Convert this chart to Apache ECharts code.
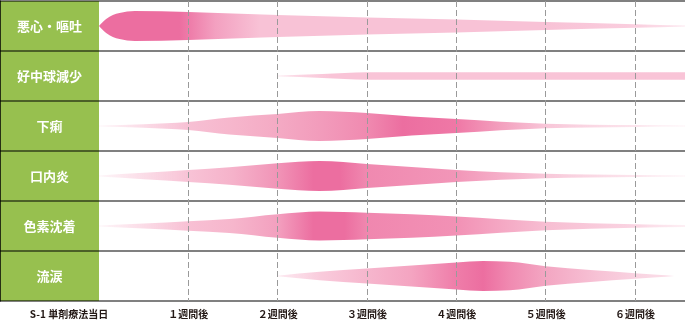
<!DOCTYPE html>
<html><head><meta charset="utf-8">
<script src="https://cdn.jsdelivr.net/npm/echarts@6/dist/echarts.min.js"></script>
<style>html,body{margin:0;padding:0;background:#fff}#c{width:685px;height:321px}</style>
</head><body><div id="c"></div>
<script>
// ---------- data ----------
const ROWS = ['悪心・嘔吐', '好中球減少', '下痢', '口内炎', '色素沈着', '流涙'];
const TICK_LABELS = ['S-1 単剤療法当日', '１週間後', '２週間後', '３週間後', '４週間後', '５週間後', '６週間後'];
const X_MAX = 6.56; // weeks visible

// half-thickness profiles (in row-height units) at given weeks
const NAUSEA_WEEKS = [0, 0.08, 0.155, 0.23, 0.4, 1, 1.5, 2, 3, 4, 5, 6, 6.56];
const NAUSEA_WIDTH = [0, 0.14, 0.22, 0.26, 0.3, 0.28, 0.25, 0.22, 0.17, 0.13, 0.08, 0.036, 0.01];
const NEUTRO_WEEKS = [2, 2.5, 3, 4, 5, 6, 6.56];
const NEUTRO_WIDTH = [0.005, 0.04, 0.075, 0.075, 0.075, 0.075, 0.075];
const DIARRHEA_WEEKS = [0, 0.5, 1, 1.46, 2, 2.47, 3, 3.5, 4, 5, 6, 6.56];
const DIARRHEA_WIDTH = [0.01, 0.035, 0.08, 0.17, 0.24, 0.3, 0.26, 0.19, 0.14, 0.045, 0.018, 0.012];
const STOMATITIS_WEEKS = [0, 0.5, 1, 1.46, 2, 2.47, 3, 3.5, 4, 5, 6, 6.56];
const STOMATITIS_WIDTH = [0.01, 0.065, 0.12, 0.175, 0.255, 0.3, 0.24, 0.18, 0.12, 0.045, 0.02, 0.012];
const PIGMENT_WEEKS = [0, 0.5, 1, 1.46, 2, 2.47, 3, 3.5, 4, 5, 6, 6.56];
const PIGMENT_WIDTH = [0.01, 0.05, 0.095, 0.14, 0.235, 0.29, 0.265, 0.235, 0.19, 0.085, 0.033, 0.018];
const TEARS_WEEKS = [2, 2.47, 3, 3.5, 4, 4.3, 4.6, 5, 5.5, 6, 6.25, 6.44];
const TEARS_WIDTH = [0.005, 0.083, 0.15, 0.21, 0.27, 0.3, 0.285, 0.195, 0.12, 0.057, 0.025, 0];

const PROFILES = [
  [NAUSEA_WEEKS, NAUSEA_WIDTH],
  [NEUTRO_WEEKS, NEUTRO_WIDTH],
  [DIARRHEA_WEEKS, DIARRHEA_WIDTH],
  [STOMATITIS_WEEKS, STOMATITIS_WIDTH],
  [PIGMENT_WEEKS, PIGMENT_WIDTH],
  [TEARS_WEEKS, TEARS_WIDTH]
];

// ---------- styles ----------
const DARK = 'rgb(236,110,160)';
const LIGHT = 'rgb(248,194,214)';
const GRADIENTS = [
  [[0, DARK], [0.9, DARK], [1.3, 'rgb(243,160,192)'], [1.8, LIGHT], [5.0, LIGHT], [6.0, 'rgb(250,206,222)'], [6.56, 'rgba(250,215,228,0.6)']],
  [[2, 'rgba(249,196,215,0.5)'], [2.6, 'rgb(249,196,215)'], [6.56, 'rgb(249,196,215)']],
  [[0, 'rgba(248,195,214,0.15)'], [1.0, 'rgb(247,192,212)'], [1.5, 'rgb(246,182,204)'], [2.0, 'rgb(244,170,196)'], [2.5, 'rgb(242,155,187)'], [3.0, 'rgb(240,138,176)'], [3.4, DARK], [4.0, 'rgb(239,120,166)'], [4.5, 'rgb(243,160,190)'], [5.0, 'rgb(248,198,216)'], [6.0, 'rgba(251,222,232,0.8)'], [6.56, 'rgba(252,230,238,0.5)']],
  [[0, 'rgba(248,195,214,0.15)'], [1.0, 'rgb(248,195,214)'], [1.5, 'rgb(245,178,202)'], [2.0, 'rgb(241,148,183)'], [2.4, DARK], [2.7, DARK], [3.0, 'rgb(240,137,176)'], [4.0, 'rgb(242,150,184)'], [5.0, 'rgb(248,200,217)'], [6.0, 'rgba(251,222,232,0.8)'], [6.56, 'rgba(252,230,238,0.5)']],
  [[0, 'rgba(248,195,214,0.15)'], [1.0, 'rgb(248,192,212)'], [1.5, 'rgb(246,182,204)'], [2.0, 'rgb(243,160,191)'], [2.4, DARK], [2.75, DARK], [3.0, 'rgb(240,135,175)'], [4.0, 'rgb(242,145,181)'], [5.0, 'rgb(247,190,210)'], [6.0, 'rgb(250,212,226)'], [6.56, 'rgba(252,228,236,0.6)']],
  [[2, 'rgba(250,210,225,0.5)'], [2.5, 'rgb(249,202,219)'], [3, 'rgb(246,182,205)'], [3.5, 'rgb(244,164,193)'], [4, 'rgb(239,125,169)'], [4.3, DARK], [4.6, 'rgb(240,138,177)'], [5, 'rgb(243,166,194)'], [5.6, 'rgb(247,195,214)'], [6.0, 'rgb(249,211,225)'], [6.44, 'rgb(251,224,234)']]
];

// monotone-x tangents (same idea as d3.curveMonotoneX)
function tangents(P) {
  const n = P.length, m = new Array(n).fill(0);
  if (n < 2) return m;
  for (let k = 1; k < n - 1; k++) {
    const h0 = P[k][0] - P[k - 1][0], h1 = P[k + 1][0] - P[k][0];
    const s0 = (P[k][1] - P[k - 1][1]) / h0, s1 = (P[k + 1][1] - P[k][1]) / h1;
    const p = (s0 * h1 + s1 * h0) / (h0 + h1);
    m[k] = ((s0 < 0 ? -1 : 1) + (s1 < 0 ? -1 : 1)) * Math.min(Math.abs(s0), Math.abs(s1), 0.5 * Math.abs(p)) || 0;
  }
  const sA = (P[1][1] - P[0][1]) / (P[1][0] - P[0][0]);
  const sB = (P[n - 1][1] - P[n - 2][1]) / (P[n - 1][0] - P[n - 2][0]);
  m[0] = n > 2 ? (3 * sA - m[1]) / 2 : sA;
  m[n - 1] = n > 2 ? (3 * sB - m[n - 2]) / 2 : sB;
  return m;
}

function buildPath(up, lo) {
  const n = up.length;
  const mu = tangents(up), ml = tangents(lo);
  const f = v => v.toFixed(2);
  let d = 'M' + f(up[0][0]) + ',' + f(up[0][1]);
  for (let k = 0; k < n - 1; k++) {
    const dx = (up[k + 1][0] - up[k][0]) / 3;
    d += 'C' + f(up[k][0] + dx) + ',' + f(up[k][1] + dx * mu[k]) + ',' +
      f(up[k + 1][0] - dx) + ',' + f(up[k + 1][1] - dx * mu[k + 1]) + ',' +
      f(up[k + 1][0]) + ',' + f(up[k + 1][1]);
  }
  d += 'L' + f(lo[n - 1][0]) + ',' + f(lo[n - 1][1]);
  for (let k = n - 1; k > 0; k--) {
    const dx = (lo[k][0] - lo[k - 1][0]) / 3;
    d += 'C' + f(lo[k][0] - dx) + ',' + f(lo[k][1] - dx * ml[k]) + ',' +
      f(lo[k - 1][0] + dx) + ',' + f(lo[k - 1][1] + dx * ml[k - 1]) + ',' +
      f(lo[k - 1][0]) + ',' + f(lo[k - 1][1]);
  }
  return d + 'Z';
}

function renderItem(params, api) {
  const i = params.dataIndex;
  const ws = PROFILES[i][0], hs = PROFILES[i][1];
  const bh = api.size([0, 1])[1];
  const up = [], lo = [];
  ws.forEach((w, k) => {
    const p = api.coord([w, i]);
    up.push([p[0], p[1] - hs[k] * bh]);
    lo.push([p[0], p[1] + hs[k] * bh]);
  });
  const g = GRADIENTS[i];
  const w0 = g[0][0], w1 = g[g.length - 1][0];
  const x0 = api.coord([w0, i])[0], x1 = api.coord([w1, i])[0];
  const fill = new echarts.graphic.LinearGradient(x0, 0, x1, 0,
    g.map(s => ({ offset: (s[0] - w0) / (w1 - w0), color: s[1] })), true);
  return { type: 'path', shape: { pathData: buildPath(up, lo) }, style: { fill: fill } };
}

const chart = echarts.init(document.getElementById('c'), null, { renderer: 'canvas' });
chart.setOption({
  animation: false,
  textStyle: { fontFamily: '"Noto Sans CJK JP", "Noto Sans", sans-serif' },
  grid: [
    { left: 0, top: 1, width: 99, height: 300, show: true, backgroundColor: '#97c04f', borderWidth: 0 },
    { left: 99, top: 1, right: 0, height: 300 }
  ],
  xAxis: [
    { gridIndex: 0, type: 'value', min: 0, max: 1, show: false },
    {
      gridIndex: 1, type: 'value', min: 0, max: X_MAX, interval: 1, z: 5,
      axisLine: { show: false }, axisTick: { show: false },
      splitLine: { show: true, showMinLine: false, showMaxLine: false, lineStyle: { color: '#9a9a9a', width: 1, type: [6, 3] } },
      axisLabel: {
        margin: 8, color: '#231815', fontSize: 10, fontWeight: 'bold', showMaxLabel: false,
        fontFamily: '"Noto Sans CJK JP", sans-serif',
        formatter: v => {
          const k = Math.round(v);
          if (Math.abs(v - k) > 1e-6 || k >= TICK_LABELS.length) return '';
          return k === 0 ? '{first|' + TICK_LABELS[0] + '}' : TICK_LABELS[k];
        },
        rich: { first: { padding: [0, 60, 0, 0], fontSize: 10, fontWeight: 'bold', color: '#231815', fontFamily: '"Noto Sans CJK JP", sans-serif' } }
      }
    }
  ],
  yAxis: [
    {
      gridIndex: 0, type: 'category', data: ROWS, inverse: true, position: 'right', z: 3,
      axisLine: { show: true, lineStyle: { color: '#000', width: 1.5 } }, axisTick: { show: false },
      axisLabel: { inside: true, margin: 49.5, align: 'center', color: '#fff', fontSize: 13, fontWeight: 'bold', fontFamily: '"Noto Sans CJK JP", sans-serif' },
      splitLine: { show: true, lineStyle: { color: 'rgba(0,0,0,0.5)', width: 2 } }
    },
    {
      gridIndex: 1, type: 'category', data: ROWS, inverse: true,
      axisLine: { show: false }, axisTick: { show: false }, axisLabel: { show: false },
      splitLine: { show: true, lineStyle: { color: '#808080', width: 2 } }
    }
  ],
  series: [{
    type: 'custom', xAxisIndex: 1, yAxisIndex: 1,
    renderItem: renderItem,
    data: ROWS.map((r, i) => [0, i]),
    encode: { x: 0, y: 1 }
  }]
});
</script>
</body></html>
